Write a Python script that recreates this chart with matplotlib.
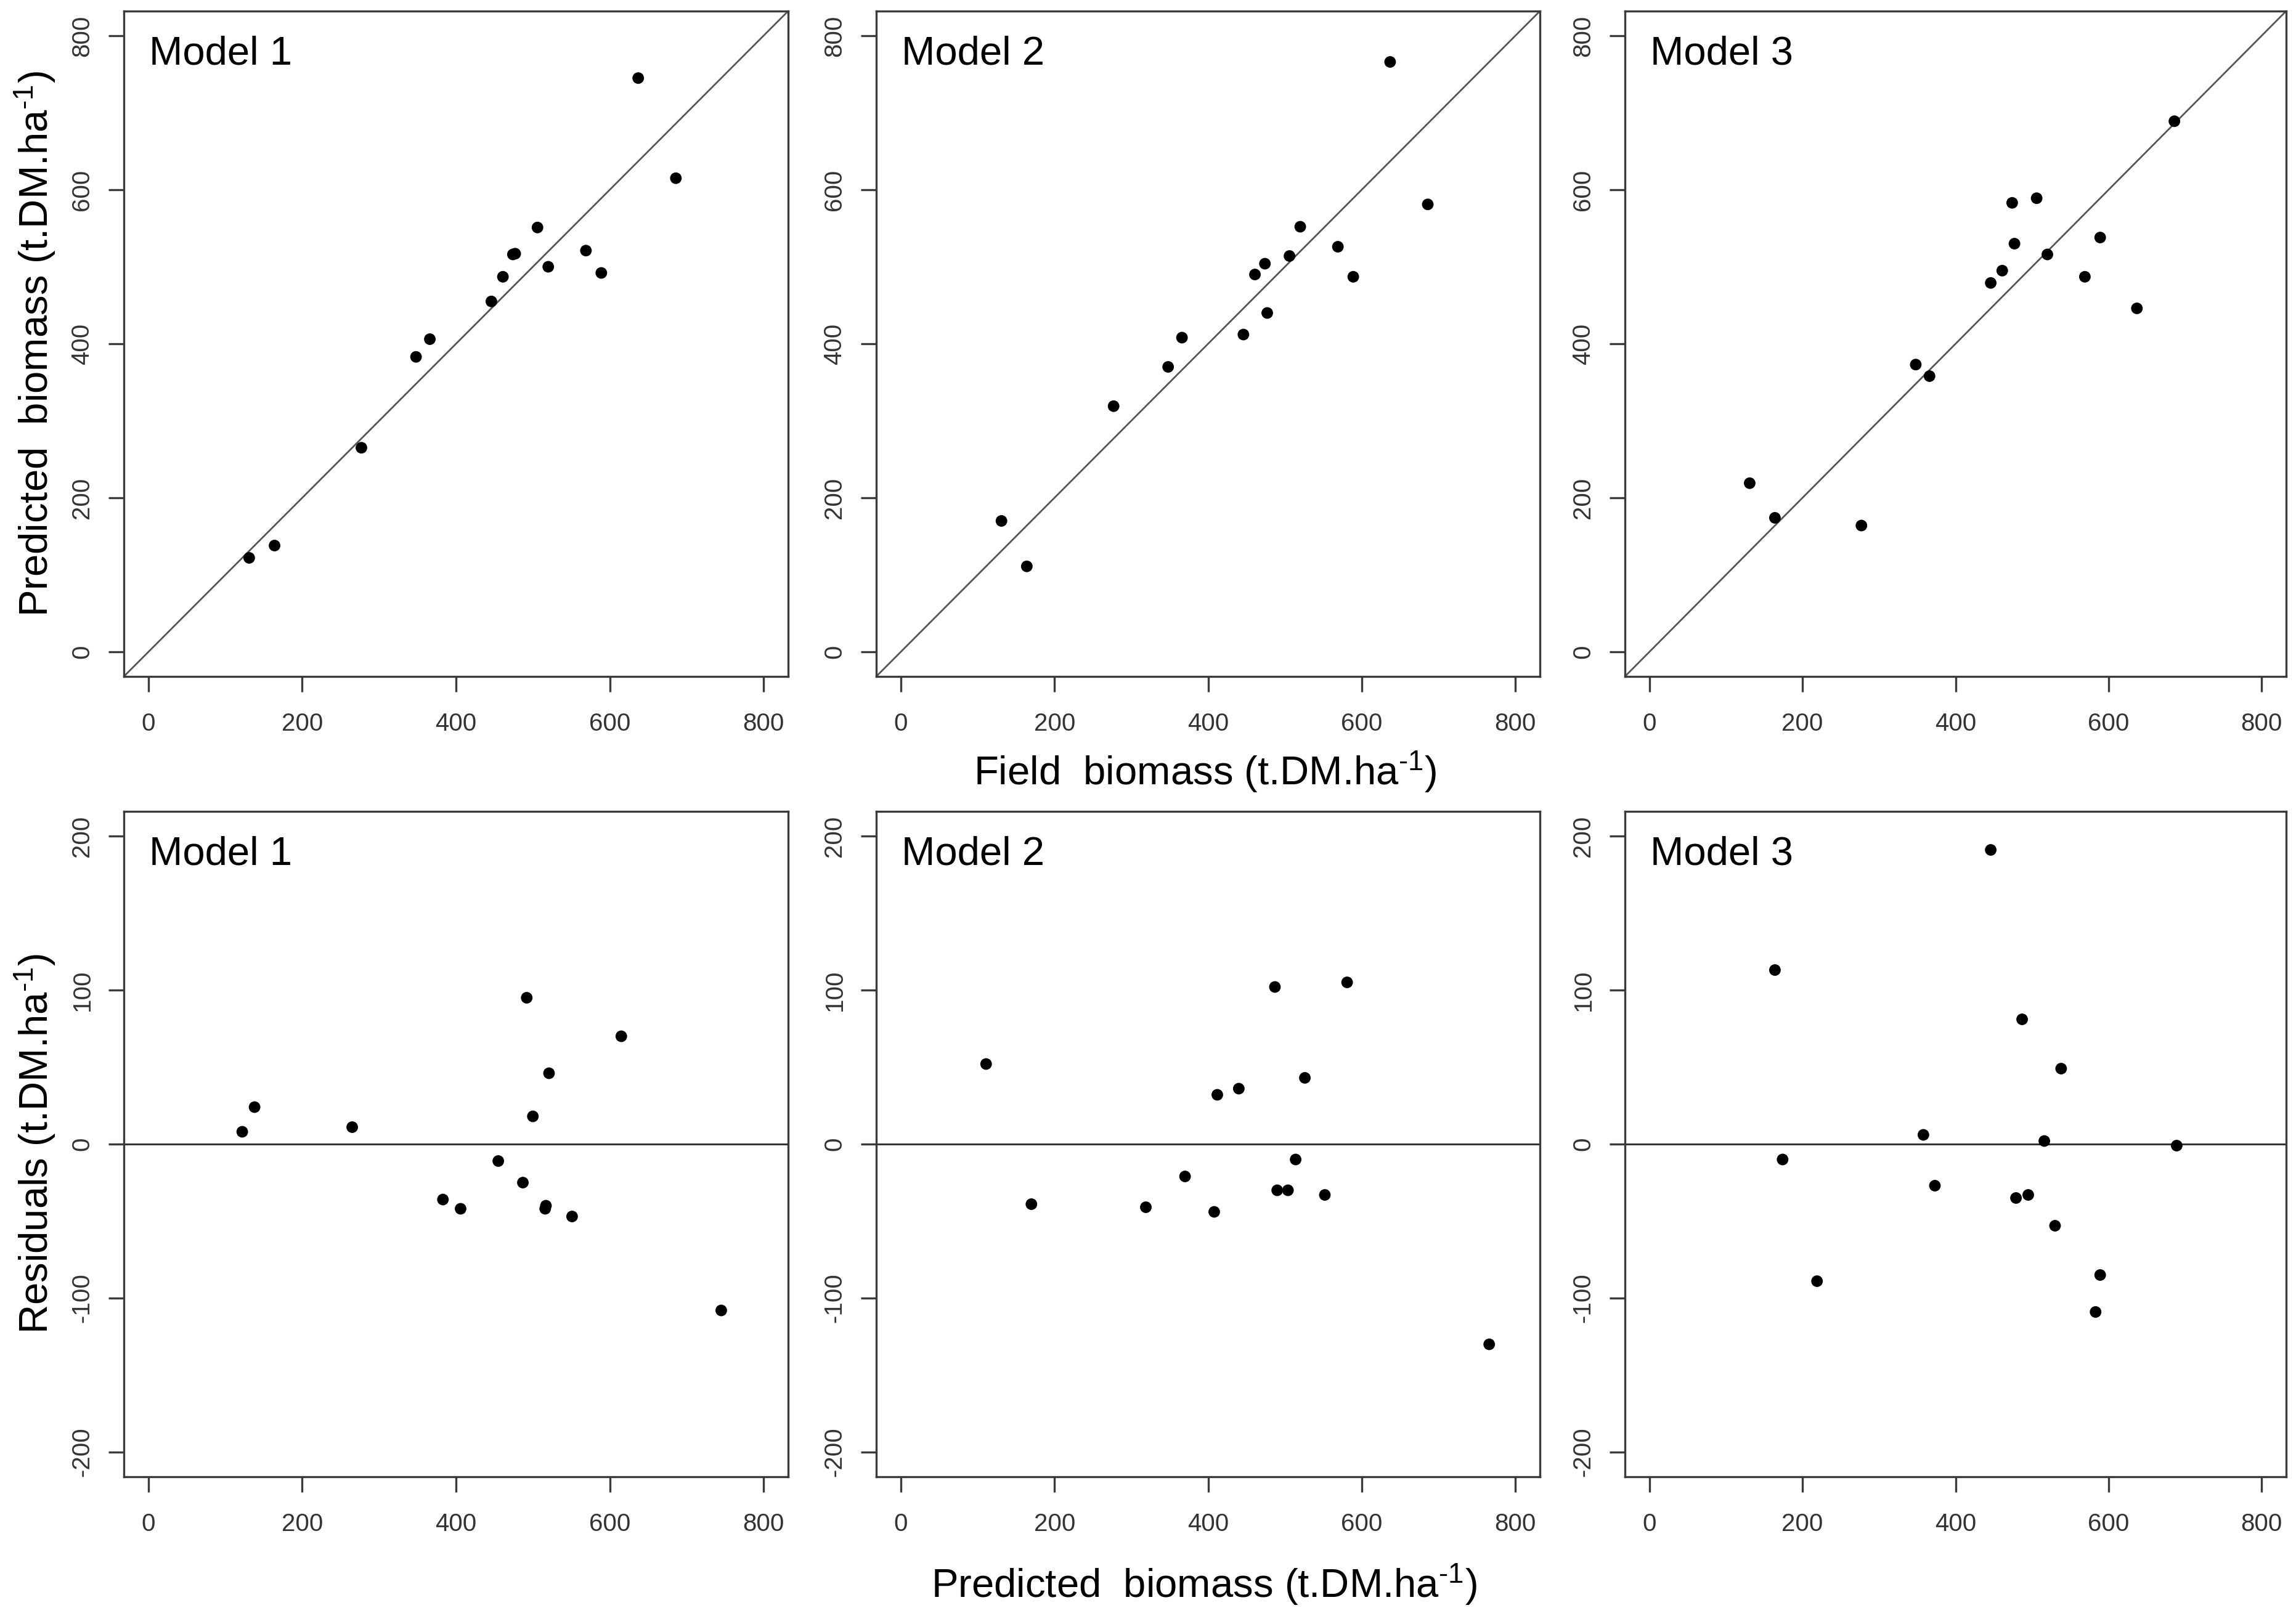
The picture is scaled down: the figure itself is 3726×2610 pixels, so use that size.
import numpy as np
import matplotlib
matplotlib.use("Agg")
import matplotlib.pyplot as plt

# ---- datos ----
field = [131, 164, 277, 348, 366, 446, 461, 474, 477, 506, 520, 569, 589, 637, 686]

pred_m1 = [122, 138, 265, 383, 406, 455, 487, 516, 517, 551, 500, 521, 492, 745, 615]
pred_m2 = [170, 111, 319, 370, 408, 412, 490, 504, 440, 514, 552, 526, 487, 766, 581]
pred_m3 = [219, 174, 164, 373, 358, 479, 495, 583, 530, 589, 516, 487, 538, 446, 689]

res_m1 = [8, 24, 11, -36, -42, -11, -25, -42, -40, -47, 18, 46, 95, -108, 70]
res_m2 = [-39, 52, -41, -21, -44, 32, -30, -30, 36, -10, -33, 43, 102, -130, 105]
res_m3 = [-89, -10, 113, -27, 6, -35, -33, -109, -53, -85, 2, 81, 49, 191, -1]

model_names = ["Model 1", "Model 2", "Model 3"]
preds = [pred_m1, pred_m2, pred_m3]
resids = [res_m1, res_m2, res_m3]

xticks = [0, 200, 400, 600, 800]
yticks_res = [-200, -100, 0, 100, 200]

unit = r"(t.DM.ha$^{\text{-1}}$)"

# ---- estilo ----
plt.rcParams["font.family"] = ["Liberation Sans", "DejaVu Sans"]
plt.rcParams["mathtext.fontset"] = "custom"
plt.rcParams["mathtext.rm"] = "Liberation Sans"
plt.rcParams["mathtext.it"] = "Liberation Sans:italic"
plt.rcParams["mathtext.bf"] = "Liberation Sans:bold"
plt.rcParams["axes.unicode_minus"] = False

W, H = 3726, 2610
DPI = 200
fig = plt.figure(figsize=(W / DPI, H / DPI), dpi=DPI)

spine_col = "#3a3a3a"
tick_col = "#333333"

col_left = [201, 1422, 2637]
col_w = [1078, 1077, 1073]
row_top = [18, 1317]
row_h = 1080


def make_ax(col, row):
    l = col_left[col] / W
    b = 1 - (row_top[row] + row_h) / H
    ax = fig.add_axes([l, b, col_w[col] / W, row_h / H])
    for s in ax.spines.values():
        s.set_color(spine_col)
        s.set_linewidth(1.2)
    ax.tick_params(axis="both", length=9, width=1.2, color=spine_col,
                   labelsize=14.5, labelcolor=tick_col)
    ax.tick_params(axis="x", pad=12)
    ax.tick_params(axis="y", pad=8.5, labelrotation=90)
    return ax


for i in range(3):
    # fila superior: observado vs predicho
    ax = make_ax(i, 0)
    ax.axline((0, 0), slope=1, color="#555555", lw=1.0, zorder=1)
    ax.scatter(field, preds[i], s=46, color="black", edgecolors="none", zorder=3)
    ax.set_xlim(-32, 832)
    ax.set_ylim(-32, 832)
    ax.set_xticks(xticks)
    ax.set_yticks(xticks)
    for lab in ax.get_yticklabels():
        lab.set_va("center")
    ax.text(0.038, 0.963, model_names[i], transform=ax.transAxes,
            ha="left", va="top", fontsize=23.5, color="black")

    # fila inferior: residuos
    ax = make_ax(i, 1)
    ax.axhline(0, color="#333333", lw=1.1, zorder=1)
    ax.scatter(preds[i], resids[i], s=46, color="black", edgecolors="none", zorder=3)
    ax.set_xlim(-32, 832)
    ax.set_ylim(-216, 216)
    ax.set_xticks(xticks)
    ax.set_yticks(yticks_res)
    for lab in ax.get_yticklabels():
        lab.set_va("center")
    ax.text(0.038, 0.963, model_names[i], transform=ax.transAxes,
            ha="left", va="top", fontsize=23.5, color="black")

# etiquetas de ejes
fig.text(1956 / W, 1 - 1253 / H, "Field  biomass " + unit,
         ha="center", va="center", fontsize=23.5)
fig.text(1954 / W, 1 - 2572 / H, "Predicted  biomass " + unit,
         ha="center", va="center", fontsize=23.5)
fig.text(57 / W, 1 - 558 / H, "Predicted  biomass " + unit,
         ha="center", va="center", rotation=90, fontsize=23.5)
fig.text(57 / W, 1 - 1856 / H, "Residuals " + unit,
         ha="center", va="center", rotation=90, fontsize=23.5)

fig.savefig("out.png", dpi=DPI, facecolor="white")
